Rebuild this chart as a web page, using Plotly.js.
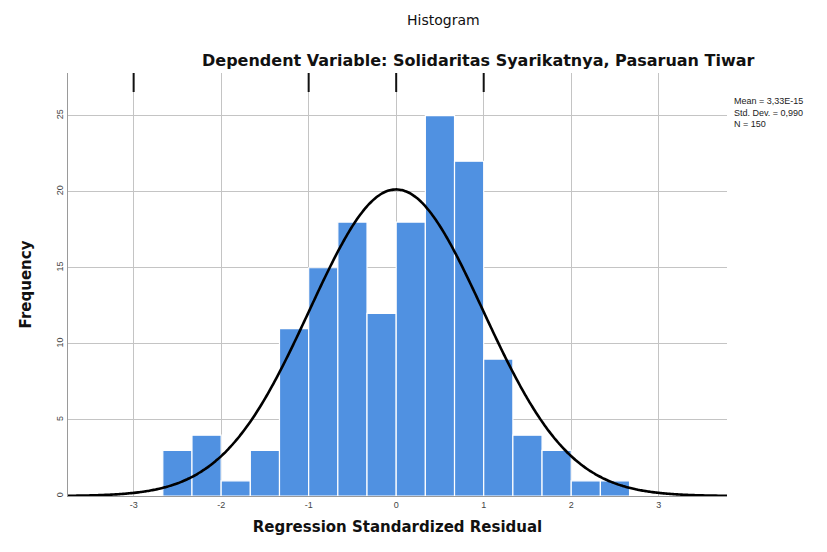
<!DOCTYPE html>
<html>
<head>
<meta charset="utf-8">
<script src="https://cdn.plot.ly/plotly-3.0.1.min.js"></script>
<style>
  html, body { margin: 0; padding: 0; background: #ffffff; }
  #chart { width: 827px; height: 552px; }
</style>
</head>
<body>
<div id="chart"></div>
<script>
// Histogram of standardized residuals (bins of width 1/3)
const binStart = -8 / 3;
const binWidth = 1 / 3;
const counts = [3, 4, 1, 3, 11, 15, 18, 12, 18, 25, 22, 9, 4, 3, 1, 1];

// Summary statistics shown in the side note
const meanValue = 3.33e-15;
const stdDev = 0.990;
const nObs = 150;
const statLines = ["Mean = 3,33E-15", "Std. Dev. = 0,990", "N = 150"];

// Axis ticks
const xTicks = [-3, -2, -1, 0, 1, 2, 3];
const xTickText = ["-3", "-2", "-1", "0", "1", "2", "3"];
const yTicks = [0, 5, 10, 15, 20, 25];
const topMarks = [-3, -1, 0, 1];

const xRange = [-3.75, 3.78];
const yRange = [0, 27.8];

const binCenters = counts.map((_, i) => binStart + (i + 0.5) * binWidth);

// Normal curve scaled to counts per bin
const curveX = [];
const curveY = [];
const steps = 300;
for (let i = 0; i <= steps; i++) {
  const x = xRange[0] + (xRange[1] - xRange[0]) * i / steps;
  const z = (x - meanValue) / stdDev;
  curveX.push(x);
  curveY.push(nObs * binWidth * Math.exp(-0.5 * z * z) / (stdDev * Math.sqrt(2 * Math.PI)));
}

const font = "Liberation Sans, Arial, sans-serif";
const wideFont = "DejaVu Sans, Verdana, sans-serif";

const bars = {
  type: "bar",
  x: binCenters,
  y: counts,
  width: binWidth,
  marker: { color: "#5091e1", line: { color: "#ffffff", width: 1.2 } },
  hoverinfo: "x+y",
  showlegend: false
};

const curve = {
  type: "scatter",
  mode: "lines",
  x: curveX,
  y: curveY,
  line: { color: "#000000", width: 2.6, shape: "spline" },
  hoverinfo: "skip",
  showlegend: false
};

const shapes = topMarks.map(v => ({
  type: "line", xref: "x", yref: "paper",
  x0: v, x1: v, y0: 1, y1: 0.955,
  line: { color: "#111111", width: 2 }
}));

const layout = {
  width: 827,
  height: 552,
  margin: { l: 68, r: 100, t: 73, b: 56 },
  paper_bgcolor: "#ffffff",
  plot_bgcolor: "#ffffff",
  bargap: 0,
  font: { family: font, color: "#111111" },
  xaxis: {
    range: xRange,
    tickvals: xTicks,
    ticktext: xTickText,
    showgrid: true,
    gridcolor: "#c4c4c4",
    gridwidth: 1,
    zeroline: false,
    showline: true,
    linecolor: "#9a9a9a",
    linewidth: 1,
    ticks: "",
    tickfont: { size: 9, color: "#444444", family: font },
    title: {
      text: "<b>Regression Standardized Residual</b>",
      font: { size: 15, color: "#111111", family: wideFont },
      standoff: 12
    }
  },
  yaxis: {
    range: yRange,
    tickvals: yTicks,
    showgrid: true,
    gridcolor: "#c4c4c4",
    gridwidth: 1,
    zeroline: false,
    showline: true,
    linecolor: "#9a9a9a",
    linewidth: 1,
    ticks: "",
    tickangle: -90,
    tickfont: { size: 9, color: "#444444", family: font },
    title: {
      text: "<b>Frequency</b>",
      font: { size: 15, color: "#111111", family: wideFont },
      standoff: 20
    }
  },
  shapes: shapes,
  annotations: [
    {
      text: "Histogram",
      xref: "paper", yref: "paper",
      x: (443 - 68) / 659, y: 1 + (73 - 20) / 423,
      xanchor: "center", yanchor: "middle",
      showarrow: false,
      font: { size: 14, color: "#111111", family: wideFont }
    },
    {
      text: "<b>Dependent Variable: Solidaritas Syarikatnya, Pasaruan Tiwar</b>",
      xref: "paper", yref: "paper",
      x: (478 - 68) / 659, y: 1 + (73 - 60) / 423,
      xanchor: "center", yanchor: "middle",
      showarrow: false,
      font: { size: 16, color: "#111111", family: wideFont }
    },
    {
      text: statLines.join("<br>"),
      xref: "paper", yref: "paper",
      x: 1.007, y: 1 - (94 - 73) / 423,
      xanchor: "left", yanchor: "top",
      align: "left",
      showarrow: false,
      font: { size: 9, color: "#222222", family: font }
    }
  ]
};

Plotly.newPlot("chart", [bars, curve], layout, { displayModeBar: false, staticPlot: true });
</script>
</body>
</html>
